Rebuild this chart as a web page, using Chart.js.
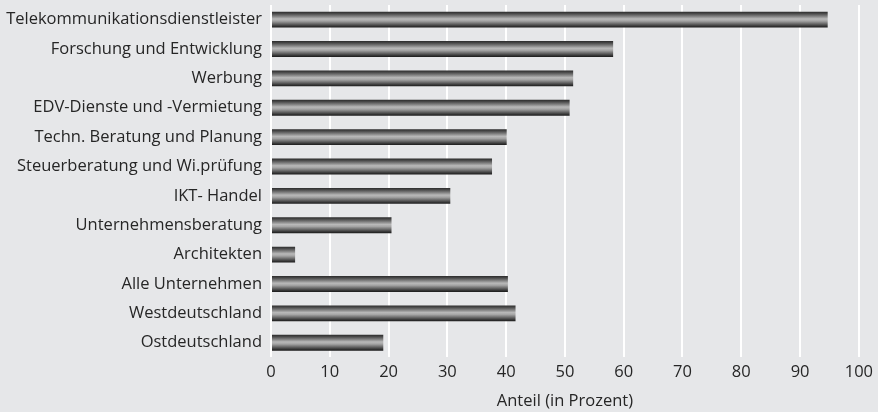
<!DOCTYPE html>
<html>
<head>
<meta charset="utf-8">
<script src="https://cdn.jsdelivr.net/npm/chart.js@4.4.0/dist/chart.umd.min.js"></script>
<style>
  html, body { margin: 0; padding: 0; background: #e6e7e9; }
  #wrap { width: 878px; height: 412px; }
</style>
</head>
<body>
<div id="wrap"><canvas id="chart" width="878" height="412"></canvas></div>
<script>
// Kategorien und Werte (Anteil in Prozent)
const categories = [
    'Telekommunikationsdienstleister',
    'Forschung und Entwicklung',
    'Werbung',
    'EDV-Dienste und -Vermietung',
    'Techn. Beratung und Planung',
    'Steuerberatung und Wi.prüfung',
    'IKT- Handel',
    'Unternehmensberatung',
    'Architekten',
    'Alle Unternehmen',
    'Westdeutschland',
    'Ostdeutschland'
];
const anteil = [94.7, 58.2, 51.4, 50.8, 40.1, 37.6, 30.5, 20.5, 4.1, 40.3, 41.6, 19.1];
const xTicks = [0, 10, 20, 30, 40, 50, 60, 70, 80, 90, 100];
const axisTitle = 'Anteil (in Prozent)';

const FONT = '"Open Sans", "Noto Sans", sans-serif';
const FONT_SIZE = 16.5;
const TEXT = '#262626';
const BAR_PCT = 0.54;

// Verlauf pro Balken (dunkle Kanten, heller Kern), aus der y-Skala berechnet
function barFill(context) {
    const chart = context.chart;
    const yScale = chart.scales.y;
    if (!chart.chartArea || !yScale) return '#777';
    const center = yScale.getPixelForValue(context.dataIndex);
    const h = (yScale.height / categories.length) * BAR_PCT;
    const top = center - h / 2;
    const g = chart.ctx.createLinearGradient(0, top, 0, top + h);
    g.addColorStop(0, '#2c2c2c');
    g.addColorStop(0.12, '#4a4a4a');
    g.addColorStop(0.3, '#858585');
    g.addColorStop(0.45, '#b9b9b9');
    g.addColorStop(0.58, '#a5a5a5');
    g.addColorStop(0.75, '#6c6c6c');
    g.addColorStop(0.9, '#383838');
    g.addColorStop(1, '#1a1a1a');
    return g;
}

new Chart(document.getElementById('chart'), {
    type: 'bar',
    data: {
        labels: categories,
        datasets: [{
            data: anteil,
            backgroundColor: barFill,
            borderWidth: 0,
            barPercentage: BAR_PCT,
            categoryPercentage: 1
        }]
    },
    options: {
        indexAxis: 'y',
        responsive: false,
        animation: false,
        layout: { padding: { top: 5, right: 16, bottom: 1, left: 0 } },
        plugins: { legend: { display: false }, tooltip: { enabled: false } },
        scales: {
            x: {
                min: 0,
                max: 100,
                afterBuildTicks: (scale) => { scale.ticks = xTicks.map(v => ({ value: v })); },
                grid: { color: '#ffffff', lineWidth: 2, drawTicks: false },
                border: { display: false },
                ticks: { padding: 5, color: TEXT, font: { family: FONT, size: FONT_SIZE } },
                title: {
                    display: true,
                    text: axisTitle,
                    color: TEXT,
                    font: { family: FONT, size: FONT_SIZE },
                    padding: { top: 4, bottom: 0 }
                }
            },
            y: {
                afterFit: (scale) => {
                    scale.width = 271;
                    scale.paddingTop = 0;
                    scale.paddingBottom = 0;
                },
                grid: { display: false, drawTicks: false },
                border: { display: false },
                ticks: { padding: 9, color: TEXT, font: { family: FONT, size: FONT_SIZE } }
            }
        }
    }
});
</script>
</body>
</html>
